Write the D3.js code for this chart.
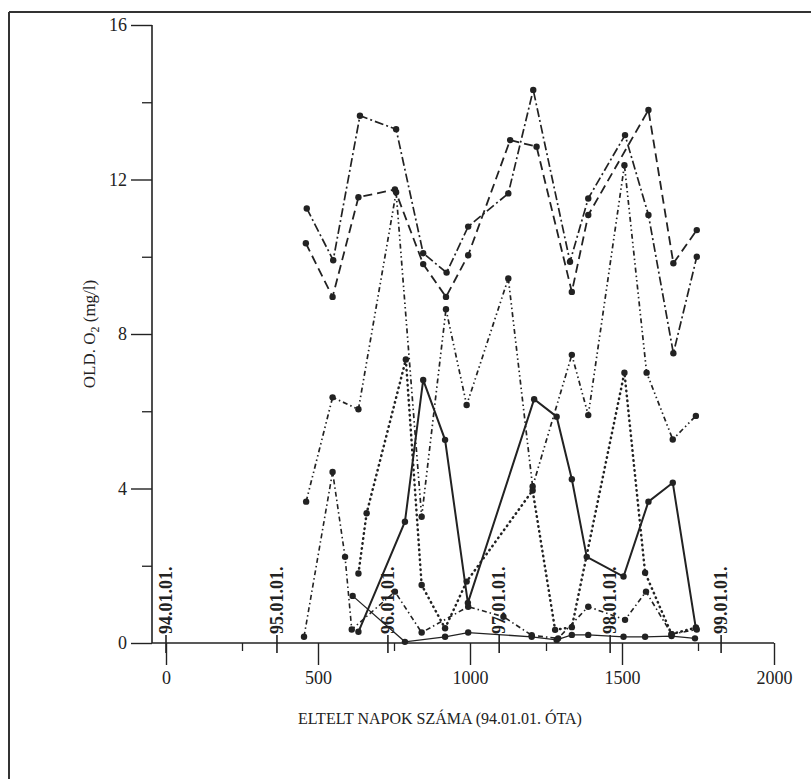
<!DOCTYPE html>
<html><head><meta charset="utf-8">
<script src="https://cdn.jsdelivr.net/npm/d3@7/dist/d3.min.js"></script>
<style>
html,body{margin:0;padding:0;background:#fff;}
svg text{font-family:"Liberation Serif","DejaVu Serif",serif;fill:#222;}
</style></head>
<body><svg id="chart" width="811" height="779"></svg>
<script>
// ---- data (days since 94.01.01 , mg/l) ----
const seriesP_days = [463,550,638,757,846,923,994,1126,1208,1329,1389,1510,1587,1669,1746];
const seriesP_vals = [11.25,9.91,13.65,13.3,10.09,9.59,10.78,11.64,14.32,9.87,11.51,13.15,11.08,7.5,10.0];

const seriesQ_days = [460,548,633,753,846,921,994,1132,1219,1335,1389,1587,1669,1746];
const seriesQ_vals = [10.35,8.96,11.54,11.74,9.81,8.96,10.04,13.02,12.85,9.09,11.08,13.8,9.83,10.69];

const seriesC_days = [461,548,633,757,841,921,989,1126,1206,1335,1389,1508,1581,1667,1743];
const seriesC_vals = [3.66,6.36,6.05,11.67,3.27,8.64,6.16,9.44,4.05,7.46,5.9,12.37,7.0,5.27,5.88];

const seriesD_days = [633,660,789,841,918,989,1206,1280,1335,1508,1576,1663,1743];
const seriesD_vals = [1.8,3.36,7.34,1.5,0.38,1.59,3.95,0.34,0.41,7.0,1.82,0.23,0.4];

const seriesE_days = [633,786,846,918,993,1211,1285,1335,1384,1505,1587,1667,1743];
const seriesE_vals = [0.29,3.14,6.81,5.26,1.04,6.31,5.86,4.24,2.23,1.72,3.66,4.15,0.38];

const seriesF_days = [614,786,918,994,1203,1285,1335,1389,1505,1576,1663,1740];
const seriesF_vals = [1.22,0.03,0.16,0.27,0.16,0.08,0.21,0.21,0.16,0.16,0.18,0.12];

const seriesG_days = [454,548,589,611,753,841,994,1110,1203,1290,1389,1510,1579,1663,1746];
const seriesG_vals = [0.16,4.43,2.23,0.35,1.33,0.27,0.94,0.68,0.2,0.12,0.94,0.6,1.33,0.23,0.35];

const xMajorTicks = [0,500,1000,1500,2000];
const xMinorTicks = [250,750,1250,1750];
const dateTicks = [0,365,730,1096,1461,1826];
const dateLabels = ["94.01.01.","95.01.01.","96.01.01.","97.01.01.","98.01.01.","99.01.01."];
const yMajorTicks = [0,4,8,12,16];
const yMinorTicks = [2,6,10,14];
const xTitle = "ELTELT NAPOK SZÁMA (94.01.01. ÓTA)";

// ---- chart ----
const svg = d3.select("#chart");
const ink = "#222";
const x = d3.scaleLinear().domain([0,2000]).range([166,774]);
const y = d3.scaleLinear().domain([0,16]).range([643,25]);
const axisX = 152;

// frame (top + left)
svg.append("line").attr("x1",9).attr("y1",12).attr("x2",811).attr("y2",12).attr("stroke","#333").attr("stroke-width",2);
svg.append("line").attr("x1",9).attr("y1",12).attr("x2",9).attr("y2",779).attr("stroke","#333").attr("stroke-width",2);

// y axis
const gy = svg.append("g").attr("transform",`translate(${axisX},0)`);
gy.call(d3.axisLeft(y).tickValues(yMajorTicks).tickSize(21).tickPadding(4).tickFormat(d3.format("d")))
  .call(g=>g.select(".domain").remove());
gy.selectAll(".tick line").attr("stroke",ink).attr("stroke-width",1.4);
gy.selectAll(".tick text").style("font-size","18px").attr("fill",ink);
gy.append("line").attr("x1",0).attr("x2",0).attr("y1",y(0)).attr("y2",y(16)).attr("stroke",ink).attr("stroke-width",1.6);
const gyMin = svg.append("g").attr("transform",`translate(${axisX},0)`);
gyMin.call(d3.axisLeft(y).tickValues(yMinorTicks).tickSize(10).tickFormat(""))
  .call(g=>g.select(".domain").remove());
gyMin.selectAll(".tick line").attr("stroke",ink).attr("stroke-width",1.3);

// x axis
svg.append("line").attr("x1",axisX).attr("x2",x(2000)).attr("y1",y(0)).attr("y2",y(0)).attr("stroke",ink).attr("stroke-width",1.6);
const gx = svg.append("g").attr("transform",`translate(0,${y(0)})`);
gx.call(d3.axisBottom(x).tickValues(xMajorTicks).tickSize(22).tickPadding(6).tickFormat(d3.format("d")))
  .call(g=>g.select(".domain").remove());
gx.selectAll(".tick line").attr("stroke",ink).attr("stroke-width",1.4);
gx.selectAll(".tick text").style("font-size","18px").attr("fill",ink);
const gxMin = svg.append("g").attr("transform",`translate(0,${y(0)})`);
gxMin.call(d3.axisBottom(x).tickValues(xMinorTicks).tickSize(8).tickFormat(""))
  .call(g=>g.select(".domain").remove());
gxMin.selectAll(".tick line").attr("stroke",ink).attr("stroke-width",1.3);

// date markers
const gd = svg.append("g");
gd.selectAll("line").data(dateTicks).join("line")
  .attr("x1",d=>x(d)).attr("x2",d=>x(d)).attr("y1",y(0)-8).attr("y2",y(0)+10)
  .attr("stroke",ink).attr("stroke-width",1.6);
gd.selectAll("text").data(dateTicks).join("text")
  .attr("transform",d=>`translate(${x(d)+6},${y(0)-9}) rotate(-90)`)
  .attr("text-anchor","start")
  .style("font-size","18px").style("font-weight","bold")
  .text((d,i)=>dateLabels[i]);

// titles
svg.append("text").attr("x",440).attr("y",724).attr("text-anchor","middle")
  .style("font-size","16px").text(xTitle);
const yt = svg.append("text").attr("transform",`translate(95,${y(8)}) rotate(-90)`)
  .attr("text-anchor","middle").style("font-size","17px");
yt.append("tspan").text("OLD. O");
yt.append("tspan").attr("dy",4).style("font-size","12px").text("2");
yt.append("tspan").attr("dy",-4).text(" (mg/l)");

// series
const series = [
  {days:seriesP_days, vals:seriesP_vals, dash:"9,3,2,3", w:1.7},
  {days:seriesQ_days, vals:seriesQ_vals, dash:"9,5", w:1.8},
  {days:seriesC_days, vals:seriesC_vals, dash:"5,3,1.5,3,1.5,3", w:1.7},
  {days:seriesD_days, vals:seriesD_vals, dash:"0.5,4.5", w:2.5, cap:"round"},
  {days:seriesE_days, vals:seriesE_vals, dash:null, w:2.0},
  {days:seriesF_days, vals:seriesF_vals, dash:null, w:1.3},
  {days:seriesG_days, vals:seriesG_vals, dash:"5,3,1.5,3", w:1.6}
];
const line = d3.line().x(d=>x(d[0])).y(d=>y(d[1]));
series.forEach(s=>{
  const pts = s.days.map((d,i)=>[d,s.vals[i]]);
  svg.append("path").datum(pts).attr("d",line).attr("fill","none")
    .attr("stroke",ink).attr("stroke-width",s.w)
    .attr("stroke-dasharray",s.dash).attr("stroke-linecap",s.cap||"butt");
  svg.append("g").selectAll("circle").data(pts).join("circle")
    .attr("cx",d=>x(d[0])).attr("cy",d=>y(d[1])).attr("r",3.2).attr("fill",ink);
});
</script></body></html>
